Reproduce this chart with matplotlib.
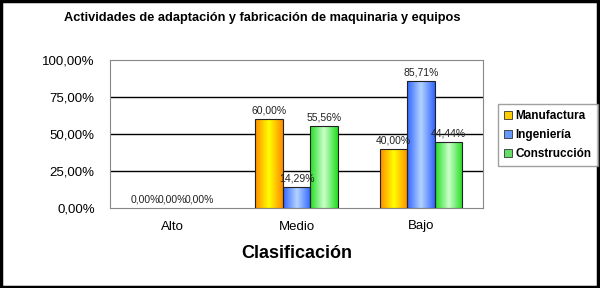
import numpy as np
import matplotlib.pyplot as plt
from matplotlib.patches import Rectangle

plt.rcParams['font.family'] = ['Liberation Sans', 'DejaVu Sans']

categorias = ["Alto", "Medio", "Bajo"]
series = ["Manufactura", "Ingeniería", "Construcción"]
manufactura = [0.0, 60.00, 40.00]
ingenieria = [0.0, 14.29, 85.71]
construccion = [0.0, 55.56, 44.44]
valores = [manufactura, ingenieria, construccion]
yticks = [0, 25, 50, 75, 100]

# edge colour, centre colour
colores = [("#ff8c00", "#ffff00"), ("#3366ff", "#b3d4ff"), ("#22dd22", "#ccffcc")]
leg_col = ["#ffcc00", "#6699ff", "#66dd66"]

fig = plt.figure(figsize=(6, 2.88), dpi=100)
fig.patch.set_facecolor("white")
fig.add_artist(Rectangle((0.002, 0.004), 0.995, 0.992, transform=fig.transFigure,
                         fill=False, edgecolor="black", linewidth=2.5))
ax = fig.add_axes([110/600, 1-208/288, 373/600, 148/288])

x = np.arange(len(categorias))
w = 0.22
for i, (vals, (c1, c2)) in enumerate(zip(valores, colores)):
    cmap = plt.matplotlib.colors.LinearSegmentedColormap.from_list("g%d" % i, [c1, c2, c1])
    grad = np.linspace(0, 1, 64).reshape(1, -1)
    for j, v in enumerate(vals):
        xc = x[j] + (i - 1) * w
        if v > 0:
            r = Rectangle((xc - w/2, 0), w, v, facecolor="none", edgecolor="#222222", lw=0.8, zorder=4)
            ax.add_patch(r)
            im = ax.imshow(grad, cmap=cmap, aspect="auto", extent=(xc - w/2, xc + w/2, 0, v), zorder=3)
            im.set_clip_path(r)
        lbl = ("%.2f%%" % v).replace(".", ",")
        ax.text(xc, v + 2.5, lbl, ha="center", va="bottom", fontsize=7.5, color="#222222", zorder=5)

for yt in yticks[1:-1]:
    ax.axhline(yt, color="black", lw=1, zorder=1)
ax.set_xlim(-0.5, 2.5)
ax.set_ylim(0, 100)
ax.set_yticks(yticks)
ax.set_yticklabels([("%.2f%%" % t).replace(".", ",") for t in yticks], fontsize=9.5)
ax.set_xticks(x)
ax.set_xticklabels(categorias, fontsize=9.5)
ax.tick_params(axis="y", length=0, pad=11)
ax.tick_params(axis="x", length=0, pad=9)
for s in ax.spines.values():
    s.set_color("#888888")
ax.set_xlabel("Clasificación", fontsize=13, fontweight="bold", labelpad=9)

fig.text(262/600, 1-18/288, "Actividades de adaptación y fabricación de maquinaria y equipos",
         ha="center", va="center", fontsize=9.2, fontweight="bold")

handles = [Rectangle((0, 0), 1, 1, facecolor=c, edgecolor="#333333", lw=0.6) for c in leg_col]
leg = fig.legend(handles, series, loc="center left", bbox_to_anchor=(492/600, 1-135/288),
                 frameon=True, fancybox=False, edgecolor="#888888",
                 handlelength=0.7, handleheight=0.7, handletextpad=0.3, borderpad=0.5,
                 labelspacing=0.6, prop={"family": ["Liberation Sans"], "weight": "bold", "size": 8.5})

fig.savefig("out.png", dpi=100)
